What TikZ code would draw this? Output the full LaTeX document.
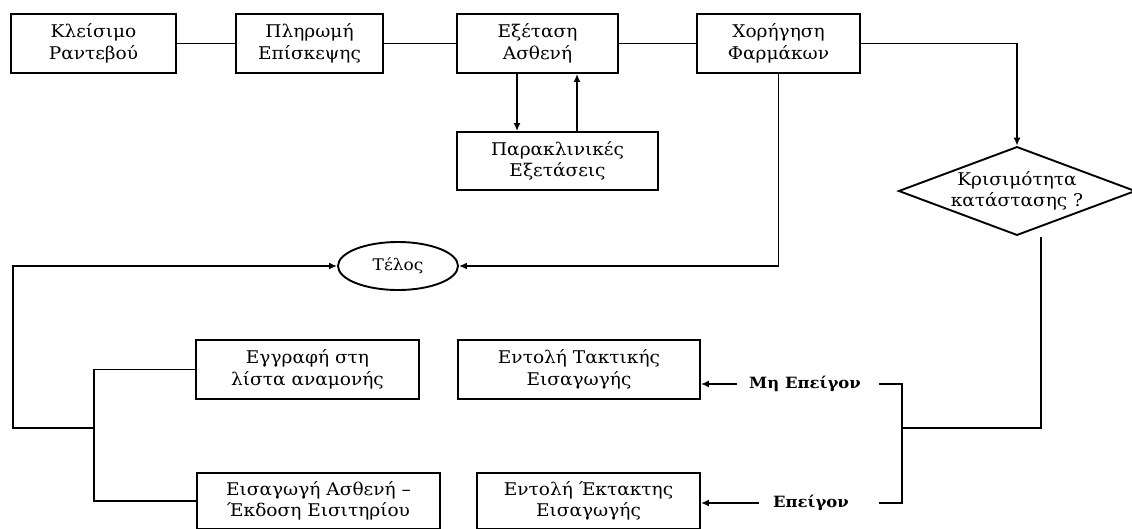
\documentclass[tikz,border=0pt]{standalone}
\usepackage{fontspec}
\setmainfont{DejaVu Serif}[FakeStretch=1.06]
\usetikzlibrary{shapes.geometric,arrows.meta}
\tikzset{
  ln/.style={line width=1.9pt},
  arr/.style={ln,-{Latex[length=8pt,width=7pt]}},
  box/.style={draw,ln,rectangle,inner sep=0pt,align=center,font=\fontsize{17.5}{21.5}\selectfont},
  lbl/.style={inner sep=0pt,font=\fontsize{15.5}{18}\selectfont\bfseries}
}
\begin{document}
\begin{tikzpicture}[x=1pt,y=-1pt]
\useasboundingbox (0,0) rectangle (1132,528);
% top row
\node[box,minimum width=165pt,minimum height=59pt] (kleis) at (93.5,43.5) {Κλείσιμο\\Ραντεβού};
\node[box,minimum width=147pt,minimum height=59pt] (plir) at (309.5,43.5) {Πληρωμή\\Επίσκεψης};
\node[box,minimum width=161pt,minimum height=59pt] (exet) at (537.5,43.5) {Εξέταση\\Ασθενή};
\node[box,minimum width=163pt,minimum height=59pt] (chor) at (778.5,43.5) {Χορήγηση\\Φαρμάκων};
\node[box,minimum width=201pt,minimum height=58pt] (parakl) at (557.5,161) {Παρακλινικές\\Εξετάσεις};
\node[draw,ln,diamond,aspect=2.67,inner sep=0pt,minimum width=232pt,minimum height=87pt,align=center,font=\fontsize{17.5}{21.5}\selectfont] (dia) at (1017,191) {Κρισιμότητα\\κατάστασης ?};
\node[draw,ln,ellipse,inner sep=0pt,minimum width=120pt,minimum height=48pt,font=\fontsize{16}{20}\selectfont] (telos) at (398,266) {Τέλος};
% lower boxes
\node[box,minimum width=223pt,minimum height=59pt] (eggr) at (307.5,369.5) {Εγγραφή στη\\λίστα αναμονής};
\node[box,minimum width=243pt,minimum height=56pt] (eisag) at (318.5,501) {Εισαγωγή Ασθενή –\\Έκδοση Εισιτηρίου};
\node[box,minimum width=242pt,minimum height=59pt] (takt) at (579,369.5) {Εντολή Τακτικής\\Εισαγωγής};
\node[box,minimum width=223pt,minimum height=56pt] (ekt) at (588.5,501) {Εντολή Έκτακτης\\Εισαγωγής};
% labels
\node[lbl] (mi) at (805,384) {Μη Επείγον};
\node[lbl] (ep) at (811,503) {Επείγον};
% helper coordinates
\coordinate (L) at (12.6,266);
\coordinate (J) at (94,428);
\coordinate (br) at (902,428);
\coordinate (ds) at (1041,237);
\coordinate (ma) at (737,384);
\coordinate (mb) at (879,384);
\coordinate (ea) at (759,503);
\coordinate (eb) at (879,503);
% connectors
\draw[ln] (kleis.east) -- (plir.west);
\draw[ln] (plir.east) -- (exet.west);
\draw[ln] (exet.east) -- (chor.west);
\draw[arr] ([xshift=-20.5pt]exet.south) -- ([xshift=-20.5pt]exet.south |- parakl.north);
\draw[arr] ([xshift=39.5pt]exet.south |- parakl.north) -- ([xshift=39.5pt]exet.south);
\draw[arr] (chor.east) -| (dia.north);
\draw[arr] (chor.south) |- (telos.east);
\draw[arr] (J) -- (L |- J) -- (L) -- (telos.west);
\draw[ln] (eggr.west) -| (J) |- (eisag.west);
\draw[arr] (ma) -- (takt.east |- ma);
\draw[arr] (ea) -- (ekt.east |- ea);
\draw[ln] (mb) -| (br) |- (eb);
\draw[ln] (br) -| (ds);
\end{tikzpicture}
\end{document}
